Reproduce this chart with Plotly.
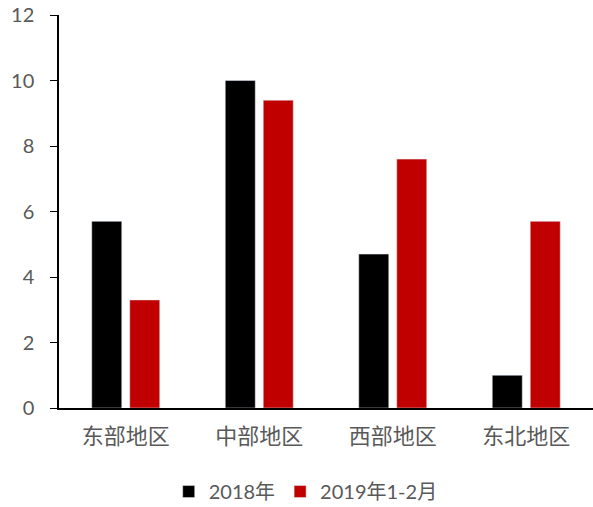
import plotly.graph_objects as go

categories = ["东部地区", "中部地区", "西部地区", "东北地区"]
series_2018 = [5.7, 10.0, 4.7, 1.0]
series_2019 = [3.3, 9.4, 7.6, 5.7]
y_ticks = [0, 2, 4, 6, 8, 10, 12]

font_family = "Lato, 'Noto Sans CJK SC', sans-serif"
gray = "#595959"

fig = go.Figure()
fig.add_trace(go.Bar(x=categories, y=series_2018, name="2018年", marker_color="#000000"))
fig.add_trace(go.Bar(x=categories, y=series_2019, name="2019年1-2月", marker_color="#C00000"))

fig.update_layout(
    width=593, height=507,
    margin=dict(l=59, r=0, t=15, b=99, autoexpand=False),
    plot_bgcolor="white", paper_bgcolor="white",
    barmode="group", bargap=0.431, bargroupgap=0.21,
    font=dict(family=font_family, size=20, color=gray),
    showlegend=True,
    legend=dict(orientation="h", x=0.462, xanchor="center", y=-0.163, yanchor="top",
                font=dict(size=20, color=gray), itemwidth=30, traceorder="normal"),
)
fig.update_xaxes(showline=True, linecolor="black", linewidth=1.5, ticks="", automargin=False,
                 ticklabelstandoff=8,
                 tickfont=dict(size=22, color=gray, family="'Noto Sans CJK SC', sans-serif"))
fig.update_yaxes(range=[0, 12.001], tickvals=y_ticks, showline=True, linecolor="black", linewidth=1.5,
                 ticks="outside", ticklen=7, tickcolor="black", showgrid=False, zeroline=False,
                 automargin=False, ticklabelstandoff=12, ticklabeloverflow="allow",
                 tickfont=dict(size=20, color=gray))

fig.write_html("out.html", config={"displayModeBar": False},
               post_script="document.body.style.margin='0';document.body.style.padding='0';")
